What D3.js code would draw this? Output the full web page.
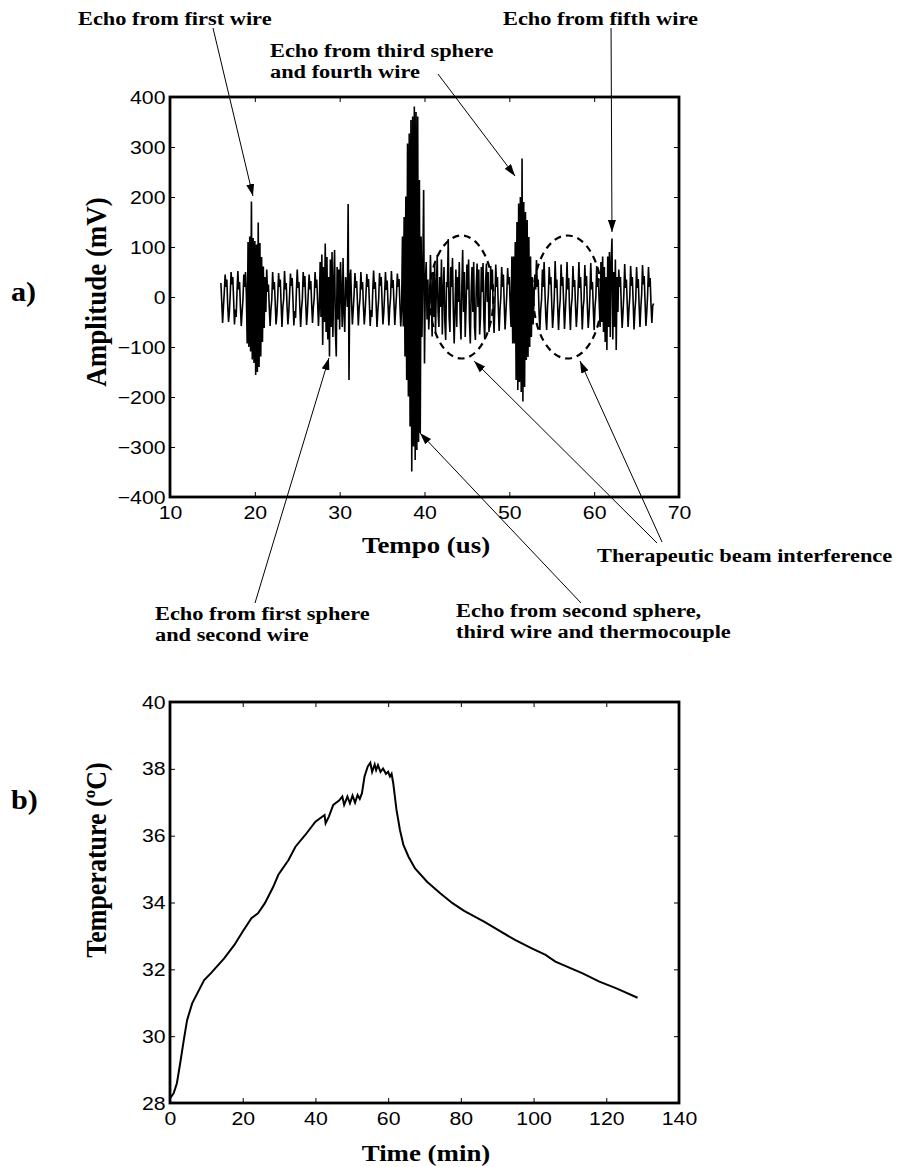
<!DOCTYPE html>
<html>
<head>
<meta charset="utf-8">
<script src="https://cdn.jsdelivr.net/npm/d3@7"></script>
<style>
  body { margin: 0; background: #fff; }
  svg { display: block; }
  .serif { font-family: "Liberation Serif", "Times New Roman", serif; font-weight: bold; }
  .sans { font-family: "Liberation Sans", Arial, sans-serif; }
</style>
</head>
<body>
<svg id="fig" width="898" height="1167"></svg>
<script>
// ---- panel a: echo signal, one sample every 0.1 us starting at 16.0 us ----
const echoStart = 16.0;
const echoStep = 0.1;
const echoMv = [
  28, -10, -52, -20, 10, 45, 20, 35, -15, -50,
  -30, 5, 50, 25, 40, -5, -55, -25, -40, 10,
  52, 15, 30, -20, -58, -30, -5, 45, 20, 50,
  5, -93, 110, -100, 121, -109, 191, -125, 118, -132,
  112, -156, 105, -150, 149, -140, 108, -119, 80, -90,
  61, -62, 40, -30, 55, 10, 25, -20, -58, -25,
  -5, 50, 15, 30, -10, -55, -35, 0, 48, 20,
  35, -15, -60, -20, -5, 52, 15, 28, -20, -55,
  -30, 5, 47, 22, 38, -8, -57, -28, -42, 12,
  55, 18, 30, -18, -60, -25, -5, 50, 20, 42,
  -12, -56, -30, 8, 45, 15, 32, -15, -52, -20,
  -2, 50, 18, 35, -10, -58, -20, 70, -40, 85,
  -96, 60, -50, 107, -70, 80, -85, 40, -119, 75,
  -60, 90, -80, 30, 94, -70, -119, 60, -45, 55,
  -65, 70, 10, -60, 78, -30, -70, 40, 20, -20,
  186, -166, 40, 55, -10, -55, -25, 5, 48, 18,
  32, -12, -57, -22, -3, 50, 15, 30, -18, -55,
  -30, 5, 46, 20, 36, -10, -58, -26, -40, 12,
  53, 16, 30, -15, -60, -28, -4, 48, 22, 40,
  -10, -55, -32, 6, 50, 14, 33, -14, -57, -22,
  -2, 52, 18, 34, -12, -56, -25, 4, 47, 20,
  36, -14, -59, -25, 121, -59, 160, -119, 201, -166,
  307, -199, 327, -259, 354, -349, 361, -299, 381, -326,
  370, -306, 361, -290, 234, -272, 121, -80, 55, 214,
  -133, 30, 70, -45, 35, -65, -20, 84, 10, -79,
  50, -40, 66, -70, 20, 84, -30, -60, 40, -20,
  75, -75, 10, 60, -50, -86, 30, 20, 116, -40,
  -70, 60, 20, 78, -30, -93, -20, 55, -60, 40,
  -10, 70, -40, -85, 20, 94, -30, 50, -80, -20,
  65, 15, 75, -50, -93, 10, 60, -30, 70, -60,
  -86, 20, 67, -20, 55, -75, -40, 60, 10, 68,
  -45, -85, 30, 67, -10, 50, -70, -40, 62, 15,
  55, -30, -72, -15, 65, 20, 40, -20, -68, -25,
  0, 60, 20, 45, -15, -65, -30, 5, 58, 25,
  40, -20, -60, 81, -93, 81, -93, 110, -166, 150,
  -186, 187, -170, 200, -190, 277, -209, 190, -180, 170,
  -126, 154, -120, 120, -100, 81, -80, 40, -55, -10,
  45, 15, 74, 20, 35, -30, -66, -25, -5, 55,
  20, 70, 10, -40, -66, -20, 5, 60, 25, 40,
  -15, -62, -35, 0, 72, 18, 35, -20, -66, -28,
  -5, 65, 22, 40, -10, -64, -30, 8, 70, 15,
  38, -25, -66, -20, -2, 62, 20, 34, -18, -60,
  -30, 10, 70, 18, 40, -12, -65, -22, -5, 64,
  22, 42, -20, -62, -35, 4, 68, 15, 30, -25,
  -66, -20, 0, 62, 20, 38, -15, -60, 70, -50,
  81, -70, 60, -90, 40, -106, 81, -60, 90, -80,
  70, 117, -85, 50, -60, 75, -106, 40, -30, 55,
  20, 40, -20, -62, -30, 5, 66, 18, 35, -15,
  -60, -25, 0, 62, 22, 40, -12, -65, -28, -5,
  60, 18, 36, -18, -60, -22, 6, 64, 25, 42,
  -10, -58, -30, 4, 60, 20, 38, -15, -52, -18,
  -13
];
const tempoTicks = [10, 20, 30, 40, 50, 60, 70];
const ampTicks = [-400, -300, -200, -100, 0, 100, 200, 300, 400];

// dashed ellipses marking the therapeutic beam interference (centre / half sizes in data units)
const interferenceT = [44.36, 56.86];
const interferenceHalfT = [3.77, 4.03];
const interferenceHalfMv = 123;

// ---- panel b: temperature ----
const tempMin = [0, 1.0, 1.9, 2.8, 3.8, 4.7, 6.1, 7.5, 9.4, 11.2,
  14.9, 17.7, 20.0, 22.4, 24.2, 26.1, 28.4, 29.8, 32.6, 34.5,
  37.2, 40.0, 42.5, 42.8, 43.7, 44.9, 46.5, 47.4, 47.9, 48.8,
  49.5, 50.2, 50.9, 51.6, 52.2, 52.8, 53.5, 54.4, 55.1, 55.6,
  56.3, 56.7, 57.2, 57.9, 58.6, 59.4, 60.0, 60.5, 60.95, 61.4,
  62.3, 63.25, 64.2, 65.6, 67.4, 70.7, 74.4, 77.7, 80.9, 86.5,
  90.2, 94.9, 99.5, 103.3, 106.0, 113.5, 118.1, 122.8, 128.6];
const tempC = [28.14, 28.29, 28.59, 29.19, 29.89, 30.48, 30.98, 31.28, 31.68, 31.88,
  32.33, 32.73, 33.13, 33.53, 33.68, 33.98, 34.47, 34.83, 35.27, 35.67,
  36.02, 36.42, 36.62, 36.37, 36.57, 36.92, 37.05, 37.17, 36.92, 37.17,
  36.97, 37.20, 36.99, 37.22, 37.10, 37.27, 37.77, 38.07, 38.18, 37.91,
  38.13, 37.96, 38.11, 37.91, 38.01, 37.85, 37.91, 37.77, 37.85, 37.57,
  36.77, 36.17, 35.72, 35.37, 35.02, 34.62, 34.27, 33.98, 33.75, 33.42,
  33.18, 32.88, 32.63, 32.43, 32.23, 31.88, 31.63, 31.43, 31.15];
const timeTicks = [0, 20, 40, 60, 80, 100, 120, 140];
const tempTicks = [28, 30, 32, 34, 36, 38, 40];

// the figure's lettering is a bit wider than the fonts we have
const STRETCH = 1.12;
const NOTE_STRETCH = 1.21;

const svg = d3.select("#fig");

svg.append("defs").append("marker")
    .attr("id", "head")
    .attr("viewBox", "0 0 12 8")
    .attr("refX", 12)
    .attr("refY", 4)
    .attr("markerWidth", 12)
    .attr("markerHeight", 8)
    .attr("markerUnits", "userSpaceOnUse")
    .attr("orient", "auto")
    .append("path")
    .attr("d", "M0,0L12,4L0,8Z")
    .attr("fill", "#000");

// lines: one string or a list of strings (drawn as tspans)
function addText(lines, x, y, size, opts = {}) {
    const rot = opts.rotate ? " rotate(-90)" : "";
    const sx = opts.stretch || STRETCH;
    const t = svg.append("text")
        .attr("class", opts.cls || "serif")
        .attr("transform", `translate(${x},${y}) scale(${sx},1)${rot}`)
        .attr("text-anchor", opts.anchor || "start")
        .style("font-size", size + "px");
    [].concat(lines).forEach((str, i) => {
        t.append("tspan")
            .attr("x", 0)
            .attr("dy", i === 0 ? 0 : 21)
            .text(str);
    });
    return t;
}

function addNote(lines, x, y) {
    return addText(lines, x, y, 18.5, { stretch: NOTE_STRETCH });
}

function drawFrame(x, y, xTicks, yTicks) {
    const [x0, x1] = x.range();
    const [y0, y1] = y.range();
    const fmt = d3.format("d");

    const styleAxis = g => {
        g.select(".domain").remove();
        g.selectAll(".tick line").attr("stroke", "#000").attr("stroke-width", 1);
        g.attr("font-family", null).attr("font-size", null);
    };

    const bottom = svg.append("g")
        .attr("transform", `translate(0,${y0})`)
        .call(d3.axisBottom(x).tickValues(xTicks).tickSize(-5).tickPadding(9).tickFormat(fmt))
        .call(styleAxis);
    bottom.selectAll(".tick text")
        .attr("class", "sans")
        .style("font-size", "19px")
        .attr("transform", `scale(${STRETCH},1)`);

    const left = svg.append("g")
        .attr("transform", `translate(${x0},0)`)
        .call(d3.axisLeft(y).tickValues(yTicks).tickSize(-5).tickPadding(4).tickFormat(fmt))
        .call(styleAxis);
    left.selectAll(".tick text")
        .attr("class", "sans")
        .style("font-size", "19px")
        .attr("transform", `scale(${STRETCH},1)`);

    svg.append("g")
        .attr("transform", `translate(0,${y1})`)
        .call(d3.axisTop(x).tickValues(xTicks).tickSize(-5).tickFormat(""))
        .call(styleAxis);
    svg.append("g")
        .attr("transform", `translate(${x1},0)`)
        .call(d3.axisRight(y).tickValues(yTicks).tickSize(-5).tickFormat(""))
        .call(styleAxis);

    svg.append("rect")
        .attr("x", x0).attr("y", y1)
        .attr("width", x1 - x0).attr("height", y0 - y1)
        .attr("fill", "none")
        .attr("stroke", "#000")
        .attr("stroke-width", 2.8);
}

// ---------------- panel a ----------------
const xA = d3.scaleLinear().domain([10, 70]).range([170, 679]);
const yA = d3.scaleLinear().domain([-400, 400]).range([497, 97]);

const echoLine = d3.line()
    .x((d, i) => xA(echoStart + i * echoStep))
    .y(d => yA(d));

svg.append("path")
    .datum(echoMv)
    .attr("d", echoLine)
    .attr("fill", "none")
    .attr("stroke", "#000")
    .attr("stroke-width", 1.6)
    .attr("stroke-linejoin", "bevel");

interferenceT.forEach((t, i) => {
    svg.append("ellipse")
        .attr("cx", xA(t))
        .attr("cy", yA(0))
        .attr("rx", xA(t + interferenceHalfT[i]) - xA(t))
        .attr("ry", yA(0) - yA(interferenceHalfMv))
        .attr("fill", "none")
        .attr("stroke", "#000")
        .attr("stroke-width", 2.2)
        .attr("stroke-dasharray", "7,5");
});

drawFrame(xA, yA, tempoTicks, ampTicks);

// arrows: [start time, start mV] -> [tip time, tip mV]
const arrows = [
    [[15.07, 538], [19.78, 202]],
    [[61.99, 538], [62.10, 130]],
    [[41.59, 446], [50.67, 242]],
    [[20.02, -612], [28.74, -122]],
    [[58.45, -612], [39.47, -272]],
    [[67.41, -492], [45.84, -128]],
    [[68.00, -490], [58.33, -128]]
];
arrows.forEach(([a, b]) => {
    svg.append("line")
        .attr("x1", xA(a[0])).attr("y1", yA(a[1]))
        .attr("x2", xA(b[0])).attr("y2", yA(b[1]))
        .attr("stroke", "#000")
        .attr("stroke-width", 1)
        .attr("marker-end", "url(#head)");
});

addNote("Echo from first wire", 78, 25);
addNote("Echo from fifth wire", 503, 25);
addNote(["Echo from third sphere", "and fourth wire"], 270, 57);
addNote("Therapeutic beam interference", 597, 562);
addNote(["Echo from first sphere", "and second wire"], 155, 620);
addNote(["Echo from second sphere,", "third wire and thermocouple"], 456, 617);

addText("Tempo (us)", 426, 553, 24, { anchor: "middle" });
addText("Amplitude (mV)", 106, 292, 27, { anchor: "middle", rotate: true });
addText("a)", 11, 301, 27);

// ---------------- panel b ----------------
const xB = d3.scaleLinear().domain([0, 140]).range([170, 679]);
const yB = d3.scaleLinear().domain([28, 40]).range([1103, 702]);

svg.append("path")
    .datum(tempMin.map((t, i) => [t, tempC[i]]))
    .attr("d", d3.line().x(d => xB(d[0])).y(d => yB(d[1])))
    .attr("fill", "none")
    .attr("stroke", "#000")
    .attr("stroke-width", 2);

drawFrame(xB, yB, timeTicks, tempTicks);

addText("Time (min)", 426, 1161, 24, { anchor: "middle" });
addText("Temperature (\u00baC)", 106, 860, 26, { anchor: "middle", rotate: true });
addText("b)", 11, 809, 27);
</script>
</body>
</html>
